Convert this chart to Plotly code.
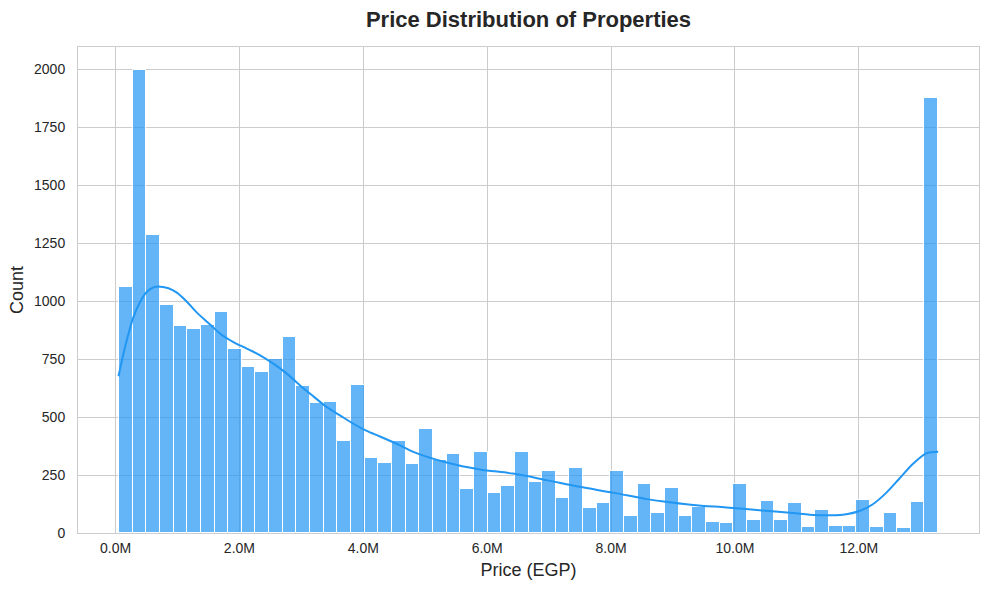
import plotly.graph_objects as go

# ---- data ----
price_min_m = 0.055   # lower edge of first bin, in million EGP
price_max_m = 13.28   # upper edge of last bin, in million EGP

bin_counts = [
    1060, 1995, 1285, 982, 891, 878, 896, 952, 792, 714,
    693, 751, 843, 632, 559, 563, 395, 636, 323, 300,
    396, 297, 448, 316, 340, 189, 349, 171, 202, 349,
    220, 267, 150, 280, 107, 128, 269, 72, 210, 85,
    193, 72, 111, 46, 42, 210, 55, 137, 55, 128,
    24, 98, 29, 29, 141, 24, 85, 20, 133, 1877,
]

kde_price_m = [
    0.048, 0.129, 0.210, 0.290, 0.398, 0.506, 0.613, 0.721, 0.855, 0.990,
    1.152, 1.313, 1.527, 1.689,
    1.903, 2.119, 2.334, 2.548, 2.765, 2.979, 3.194, 3.410, 3.624, 3.839,
    4.055, 4.269, 4.592, 4.806, 5.345, 5.882, 6.419, 6.958, 7.495, 8.032,
    8.571, 8.785, 9.323, 9.861, 10.398, 10.935, 11.205, 11.474, 11.742, 12.010,
    12.226, 12.442, 12.656, 12.871, 13.087, 13.281,
]
kde_count = [
    676, 774, 860, 932, 997, 1040, 1059, 1062, 1055, 1036,
    997, 950, 899, 859,
    823, 795, 766, 730, 687, 636, 589, 543, 507, 471,
    440, 416, 378, 350, 304, 274, 256, 228, 199, 174,
    146, 138, 121, 110, 98, 86, 79, 76, 79, 95,
    124, 173, 235, 297, 343, 350,
]

x_tick_vals = [0, 2, 4, 6, 8, 10, 12]
x_tick_text = ["0.0M", "2.0M", "4.0M", "6.0M", "8.0M", "10.0M", "12.0M"]
y_tick_vals = [0, 250, 500, 750, 1000, 1250, 1500, 1750, 2000]

title_text = "Price Distribution of Properties"
x_title = "Price (EGP)"
y_title = "Count"

# ---- derived bin geometry ----
n_bins = len(bin_counts)
bin_w = (price_max_m - price_min_m) / n_bins
bin_centers = [price_min_m + bin_w * (i + 0.5) for i in range(n_bins)]

FONT = "Liberation Sans, Arial, sans-serif"
TXT = "#262626"
GRID = "#cccccc"

fig = go.Figure()
fig.add_trace(go.Bar(
    x=bin_centers,
    y=bin_counts,
    width=[bin_w] * n_bins,
    marker=dict(color="rgba(33,150,243,0.7)", line=dict(color="white", width=1)),
    showlegend=False,
    hoverinfo="x+y",
))
fig.add_trace(go.Scatter(
    x=kde_price_m,
    y=kde_count,
    mode="lines",
    line=dict(color="#2196F3", width=2, shape="spline", smoothing=0.8),
    showlegend=False,
))

fig.update_layout(
    width=989,
    height=590,
    autosize=False,
    margin=dict(l=78, r=10, t=47, b=57),
    paper_bgcolor="white",
    plot_bgcolor="white",
    bargap=0,
    font=dict(family=FONT, color=TXT, size=14),
    title=dict(
        text=title_text,
        x=0.5, xref="paper", xanchor="center",
        y=0.968, yref="container", yanchor="middle",
        font=dict(family=FONT, size=22, color=TXT, weight="bold"),
    ),
)

fig.update_xaxes(
    range=[-0.606, 13.94],
    tickvals=x_tick_vals,
    ticktext=x_tick_text,
    tickfont=dict(family=FONT, size=14, color=TXT),
    ticks="outside", ticklen=2, tickcolor="rgba(0,0,0,0)",
    showgrid=True, gridcolor=GRID, gridwidth=1,
    showline=True, linecolor=GRID, linewidth=1, mirror=True,
    zeroline=False, automargin=False,
    title=dict(text=x_title, font=dict(family=FONT, size=18, color=TXT), standoff=8),
)
fig.update_yaxes(
    range=[0, 2095],
    tickvals=y_tick_vals,
    tickfont=dict(family=FONT, size=14, color=TXT),
    ticks="outside", ticklen=9, tickcolor="rgba(0,0,0,0)",
    showgrid=True, gridcolor=GRID, gridwidth=1,
    showline=True, linecolor=GRID, linewidth=1, mirror=True,
    zeroline=False, automargin=False,
    title=dict(text=y_title, font=dict(family=FONT, size=18, color=TXT), standoff=5),
)

fig.write_html(
    "out.html",
    config={"displayModeBar": False},
    post_script="document.body.style.margin='0';document.body.style.padding='0';",
)
